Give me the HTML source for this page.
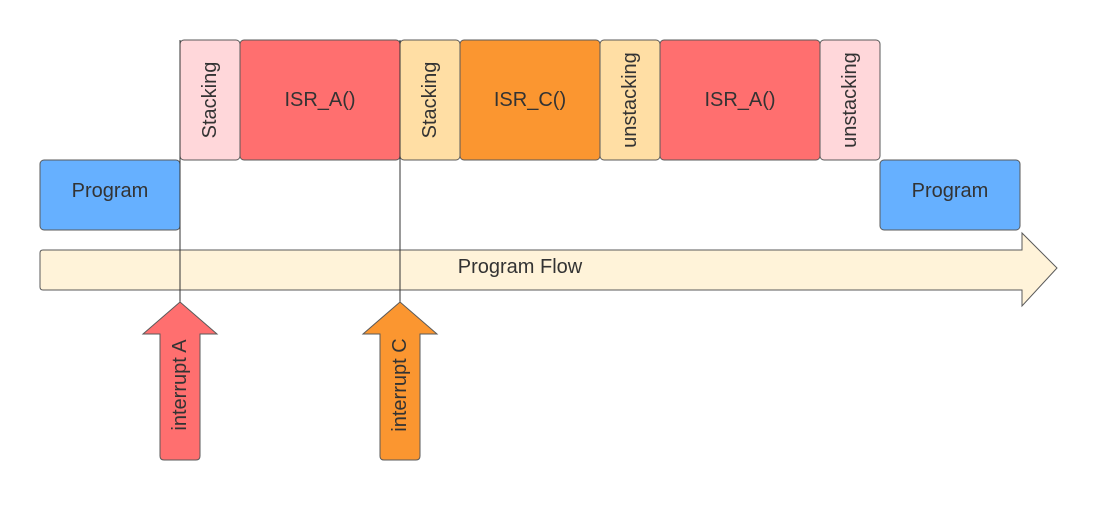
<!DOCTYPE html>
<html><head><style>body{margin:0;background:#fff}</style></head><body>
<svg width="1100" height="500" xmlns="http://www.w3.org/2000/svg" font-family="Liberation Sans, sans-serif" font-size="20" fill="#333">
<g stroke="#5a5a5a" stroke-width="1">
<path d="M43,250 H1022 V233 L1057,268 L1022,306 V290 H43 Q40,290 40,287 V253 Q40,250 43,250 Z" fill="#fff3d9"/>
<rect x="40" y="160" width="140" height="70" rx="4" fill="#66b0ff"/>
<rect x="880" y="160" width="140" height="70" rx="4" fill="#66b0ff"/>
<rect x="180" y="40" width="60" height="120" rx="4" fill="#ffd7da"/>
<rect x="240" y="40" width="160" height="120" rx="4" fill="#ff6f6f"/>
<rect x="400" y="40" width="60" height="120" rx="4" fill="#ffdea4"/>
<rect x="460" y="40" width="140" height="120" rx="4" fill="#fb9630"/>
<rect x="600" y="40" width="60" height="120" rx="4" fill="#ffdea4"/>
<rect x="660" y="40" width="160" height="120" rx="4" fill="#ff6f6f"/>
<rect x="820" y="40" width="60" height="120" rx="4" fill="#ffd7da"/>
<line x1="180" y1="40" x2="180" y2="302" stroke="#333"/>
<line x1="400" y1="40" x2="400" y2="302" stroke="#333"/>
<path d="M180,302 L217,334 H200 V456 Q200,460 196,460 H164 Q160,460 160,456 V334 H143 Z" fill="#ff6f6f"/>
<path d="M400,302 L437,334 H420 V456 Q420,460 416,460 H384 Q380,460 380,456 V334 H363 Z" fill="#fb9630"/>
</g>
<g text-anchor="middle" dominant-baseline="central">
<text x="110" y="191">Program</text>
<text x="950" y="191">Program</text>
<text x="320" y="100">ISR_A()</text>
<text x="530" y="100">ISR_C()</text>
<text x="740" y="100">ISR_A()</text>
<text x="520" y="267">Program Flow</text>
<text transform="translate(210,100) rotate(-90)">Stacking</text>
<text transform="translate(430,100) rotate(-90)">Stacking</text>
<text transform="translate(630,100) rotate(-90)">unstacking</text>
<text transform="translate(850,100) rotate(-90)">unstacking</text>
<text transform="translate(180,385) rotate(-90)">interrupt A</text>
<text transform="translate(400,385) rotate(-90)">interrupt C</text>
</g>
</svg>
</body></html>
